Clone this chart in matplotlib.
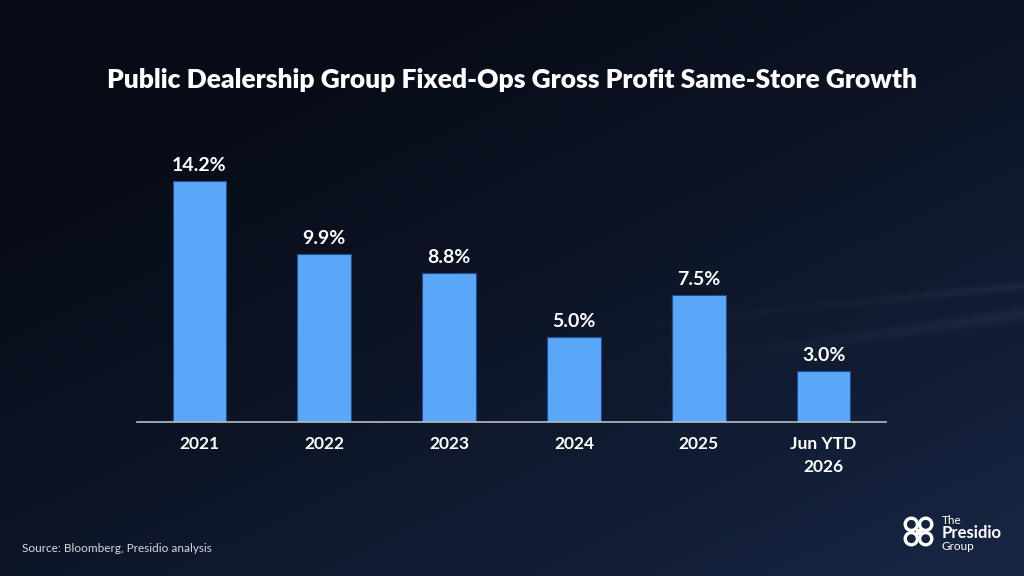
import numpy as np
import matplotlib
matplotlib.use("Agg")
import matplotlib.pyplot as plt

categories = ["2021", "2022", "2023", "2024", "2025", "Jun YTD\n2026"]
values = [14.2, 9.9, 8.8, 5.0, 7.5, 3.0]
value_labels = ["14.2%", "9.9%", "8.8%", "5.0%", "7.5%", "3.0%"]
title = "Public Dealership Group Fixed-Ops Gross Profit Same-Store Growth"
source = "Source: Bloomberg, Presidio analysis"

fig = plt.figure(figsize=(10.24, 5.76), dpi=100)

# background gradient
bg = fig.add_axes([0, 0, 1, 1])
bg.set_axis_off()
h, w = 288, 512
yy, xx = np.mgrid[0:1:h*1j, 0:1:w*1j]
t = np.clip(0.55 * xx + 0.65 * yy - 0.15, 0, 1) ** 1.3
c0 = np.array([0x07, 0x0b, 0x16]) / 255
c1 = np.array([0x17, 0x25, 0x42]) / 255
img = c0[None, None, :] * (1 - t[..., None]) + c1[None, None, :] * t[..., None]
for (a, b, s) in [(0.62, -0.25, 0.012), (0.55, -0.18, 0.008)]:
    d = np.abs(yy - (a + b * (xx - 0.7)))
    mask = np.exp(-(d / s) ** 2) * np.clip((xx - 0.6) / 0.4, 0, 1)
    img = img + mask[..., None] * 0.04
img = np.clip(img, 0, 1)
bg.imshow(img, aspect="auto", extent=[0, 1, 0, 1], origin="upper")
bg.set_xlim(0, 1); bg.set_ylim(0, 1)

ax = fig.add_axes([137/1024, (576-422)/576, 749/1024, 270/576])
ax.patch.set_alpha(0)
x = np.arange(len(categories))
ax.bar(x, values, width=0.43, color="#5aa6f8", edgecolor="#1d4f8f", linewidth=0.8, zorder=2)
ax.set_xlim(-0.5, 5.5)
ax.set_ylim(0, 15.9)
for xi, v, lab in zip(x, values, value_labels):
    ax.annotate(lab, (xi, v), xytext=(0, 5), textcoords="offset points",
                ha="center", va="bottom", color="white", fontsize=14,
                fontweight="bold", family="Lato")
for s in ["top", "right", "left"]:
    ax.spines[s].set_visible(False)
ax.spines["bottom"].set_color("#b8bcc4")
ax.spines["bottom"].set_linewidth(1.2)
ax.set_yticks([])
ax.set_xticks(x)
ax.set_xticklabels(categories, color="white", fontsize=12.5, fontweight="bold",
                   family="Lato", linespacing=1.55)
ax.tick_params(axis="x", length=0, pad=10)

fig.text(0.5, (576-80)/576, title, ha="center", va="center", color="white",
         fontsize=19, fontweight="heavy", family="Lato")
fig.text(22/1024, (576-549)/576, source, ha="left", va="center", color="#d8dae0",
         fontsize=8.5, family="Lato")

# logo
lx = 942/1024
fig.text(lx, (576-520)/576, "The", color="white", fontsize=8.5, family="Lato", va="center")
fig.text(lx, (576-533)/576, "Presidio", color="white", fontsize=12, fontweight="bold", family="Lato", va="center")
fig.text(lx, (576-546)/576, "Group", color="white", fontsize=8.5, family="Lato", va="center")
lg = fig.add_axes([900/1024, (576-550)/576, 37/1024, 37/576])
lg.set_axis_off(); lg.set_xlim(-1, 1); lg.set_ylim(-1, 1)
for ang in [45, 135, 225, 315]:
    r = np.deg2rad(ang)
    cx, cy = 0.55*np.cos(r), 0.55*np.sin(r)
    lg.add_patch(plt.Circle((cx, cy), 0.33, fill=False, ec="white", lw=2.4))
lg.add_patch(plt.Rectangle((-0.12, -0.12), 0.24, 0.24, color="white"))

fig.savefig("out.png", dpi=100)
